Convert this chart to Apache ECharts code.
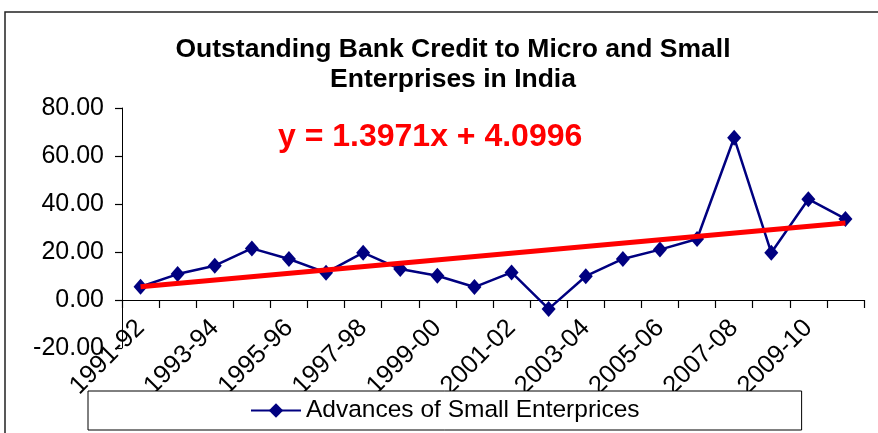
<!DOCTYPE html>
<html>
<head>
<meta charset="utf-8">
<script src="https://cdn.jsdelivr.net/npm/echarts@6/dist/echarts.min.js"></script>
<style>
  html, body { margin: 0; padding: 0; background: #fff; }
  #chart { width: 878px; height: 433px; }
</style>
</head>
<body>
<div id="chart"></div>
<script>
// 年度
const years = [
  '1991-92', '1992-93', '1993-94', '1994-95', '1995-96', '1996-97', '1997-98',
  '1998-99', '1999-00', '2000-01', '2001-02', '2002-03', '2003-04', '2004-05',
  '2005-06', '2006-07', '2007-08', '2008-09', '2009-10', '2010-11'
];
// Advances of Small Enterprices (growth, %)
const advances = [
  5.5, 10.8, 14.3, 21.5, 17.1, 11.4, 19.7, 12.9, 10.1, 5.4,
  11.5, -3.7, 9.9, 17.1, 21.0, 25.4, 67.6, 19.7, 42.0, 33.8
];
// linear trend endpoints (first / last category)
const trendPoints = [[0, 5.50], [19, 32.04]];
const trendLabel = 'y = 1.3971x + 4.0996';
const yTicks = [-20, 0, 20, 40, 60, 80];

const font = "'Liberation Sans', Arial, sans-serif";
const chart = echarts.init(document.getElementById('chart'));

chart.setOption({
  backgroundColor: '#fff',
  animation: false,
  title: {
    text: 'Outstanding Bank Credit to Micro and Small\nEnterprises in India',
    left: 448,
    top: 30,
    textAlign: 'center',
    textStyle: { fontFamily: font, fontSize: 26.5, fontWeight: 'bold', color: '#000', lineHeight: 30 }
  },
  graphic: [
    {
      type: 'rect',
      shape: { x: 5, y: 12, width: 900, height: 460 },
      style: { fill: 'none', stroke: '#222', lineWidth: 1.5 },
      silent: true,
      z: -10
    },
    {
      type: 'text',
      left: 278,
      top: 121,
      style: { text: trendLabel, font: 'bold 32px ' + font, fill: '#ff0000' },
      z: 10
    }
  ],
  legend: {
    left: 88,
    top: 391,
    z: 20,
    padding: [7, 162],
    backgroundColor: '#fff',
    borderColor: '#000',
    borderWidth: 1,
    itemWidth: 50,
    itemHeight: 18,
    itemGap: 5,
    data: ['Advances of Small Enterprices'],
    textStyle: { fontFamily: font, fontSize: 24.5, color: '#000' }
  },
  grid: { left: 122, right: 14, top: 108, bottom: 85, outerBoundsMode: 'none', containLabel: false },
  xAxis: {
    type: 'category',
    data: years,
    position: 'bottom',
    offset: -48, // axis crosses at y = 0 (20 units = 48px)
    axisLine: { onZero: false, lineStyle: { color: '#000', width: 1 } },
    axisTick: { show: true, interval: 0, alignWithLabel: false, length: 8, lineStyle: { color: '#000', width: 1.2 } },
    axisLabel: {
      interval: 1,
      rotate: 45,
      margin: 24,
      fontFamily: font,
      fontSize: 25.5,
      color: '#000'
    }
  },
  yAxis: {
    type: 'value',
    min: yTicks[0],
    max: yTicks[yTicks.length - 1],
    interval: 20,
    splitLine: { show: false },
    axisLine: { show: true, onZero: false, lineStyle: { color: '#000', width: 1 } },
    axisTick: { show: true, length: 7, lineStyle: { color: '#000', width: 1.2 } },
    axisLabel: {
      margin: 18,
      fontFamily: font,
      fontSize: 25,
      color: '#000',
      formatter: v => v.toFixed(2)
    }
  },
  series: [
    {
      name: 'Advances of Small Enterprices',
      type: 'line',
      data: advances,
      symbol: 'diamond',
      symbolSize: [14, 16],
      lineStyle: { color: '#000080', width: 2.5 },
      itemStyle: { color: '#000080' },
      z: 2
    },
    {
      name: 'trend',
      type: 'line',
      data: trendPoints,
      symbol: 'none',
      lineStyle: { color: '#ff0000', width: 5 },
      z: 3
    }
  ]
});
</script>
</body>
</html>
